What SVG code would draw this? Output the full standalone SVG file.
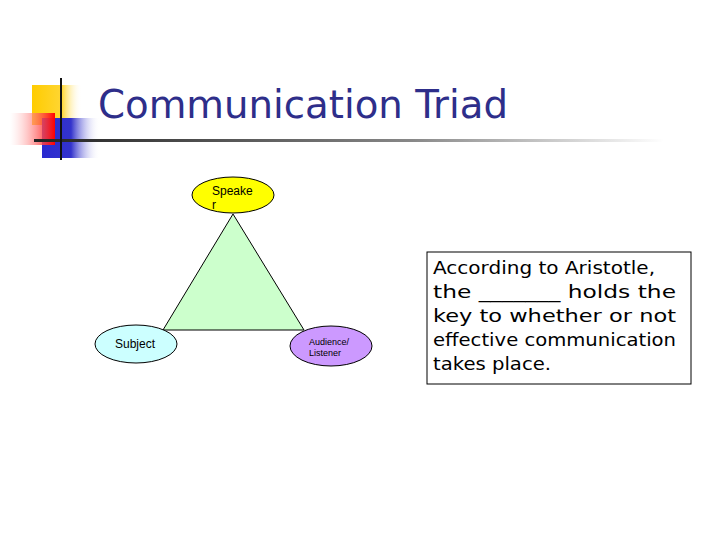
<svg xmlns="http://www.w3.org/2000/svg" width="720" height="540" viewBox="0 0 720 540">
<defs>
<linearGradient id="gy" x1="0" x2="1"><stop offset="0" stop-color="#ffcc00"/><stop offset="0.6" stop-color="#ffd633"/><stop offset="1" stop-color="#fff" stop-opacity="0"/></linearGradient>
<linearGradient id="gb" x1="0" x2="1"><stop offset="0" stop-color="#2a2ad0"/><stop offset="0.5" stop-color="#3333cc"/><stop offset="1" stop-color="#fff" stop-opacity="0"/></linearGradient>
<linearGradient id="gr" x1="1" x2="0"><stop offset="0" stop-color="#ff0000"/><stop offset="1" stop-color="#fff" stop-opacity="0.3"/></linearGradient>
<linearGradient id="gl" x1="0" x2="1"><stop offset="0" stop-color="#222"/><stop offset="0.6" stop-color="#888"/><stop offset="1" stop-color="#fff"/></linearGradient>
</defs>
<style>
.lbl{font-family:"Liberation Sans",Arial,sans-serif;fill:#000}
.node ellipse{stroke:#000;stroke-width:1}
</style>
<rect width="720" height="540" fill="#fff"/>
<g id="decor">
<rect x="32" y="85" width="50" height="40" fill="url(#gy)"/>
<rect x="42" y="118" width="58" height="40" fill="url(#gb)"/>
<rect x="10" y="113" width="45" height="32" fill="url(#gr)"/>
<rect x="34" y="139" width="630" height="3" fill="url(#gl)"/>
<rect x="60" y="78" width="2" height="82" fill="#111"/>
</g>
<text x="98" y="118" font-family="Tahoma,'DejaVu Sans',sans-serif" font-size="39" fill="#2e2e8a" textLength="410" lengthAdjust="spacingAndGlyphs">Communication Triad</text>
<g id="connectors">
<polygon points="233,214 163,330 304,330" fill="#ccffcc" stroke="#000" stroke-width="1"/>
</g>
<g id="speaker" class="node">
<ellipse cx="233" cy="195" rx="41" ry="18" fill="#ffff00"/>
<text class="lbl" x="212" y="195" font-size="12">Speake</text>
<text class="lbl" x="212" y="209" font-size="12">r</text>
</g>
<g id="subject" class="node">
<ellipse cx="136" cy="344" rx="41" ry="19" fill="#ccffff"/>
<text class="lbl" x="115" y="348" font-size="12">Subject</text>
</g>
<g id="audience" class="node">
<ellipse cx="331" cy="346" rx="41" ry="20" fill="#cc99ff"/>
<text class="lbl" x="309" y="345" font-size="9">Audience/</text>
<text class="lbl" x="309" y="356" font-size="9">Listener</text>
</g>
<g id="note">
<rect x="427" y="252" width="264" height="132" fill="#fff" stroke="#000" stroke-width="1"/>
<g font-family="Verdana,'DejaVu Sans',sans-serif" font-size="18" fill="#000">
<text x="433" y="274" textLength="222" lengthAdjust="spacingAndGlyphs">According to Aristotle,</text>
<text x="433" y="298" textLength="243" lengthAdjust="spacingAndGlyphs">the _______  holds the</text>
<text x="433" y="322" textLength="243" lengthAdjust="spacingAndGlyphs">key to whether or not</text>
<text x="433" y="346" textLength="243" lengthAdjust="spacingAndGlyphs">effective communication</text>
<text x="433" y="370" textLength="118" lengthAdjust="spacingAndGlyphs">takes place.</text>
</g>
</g>
</svg>
